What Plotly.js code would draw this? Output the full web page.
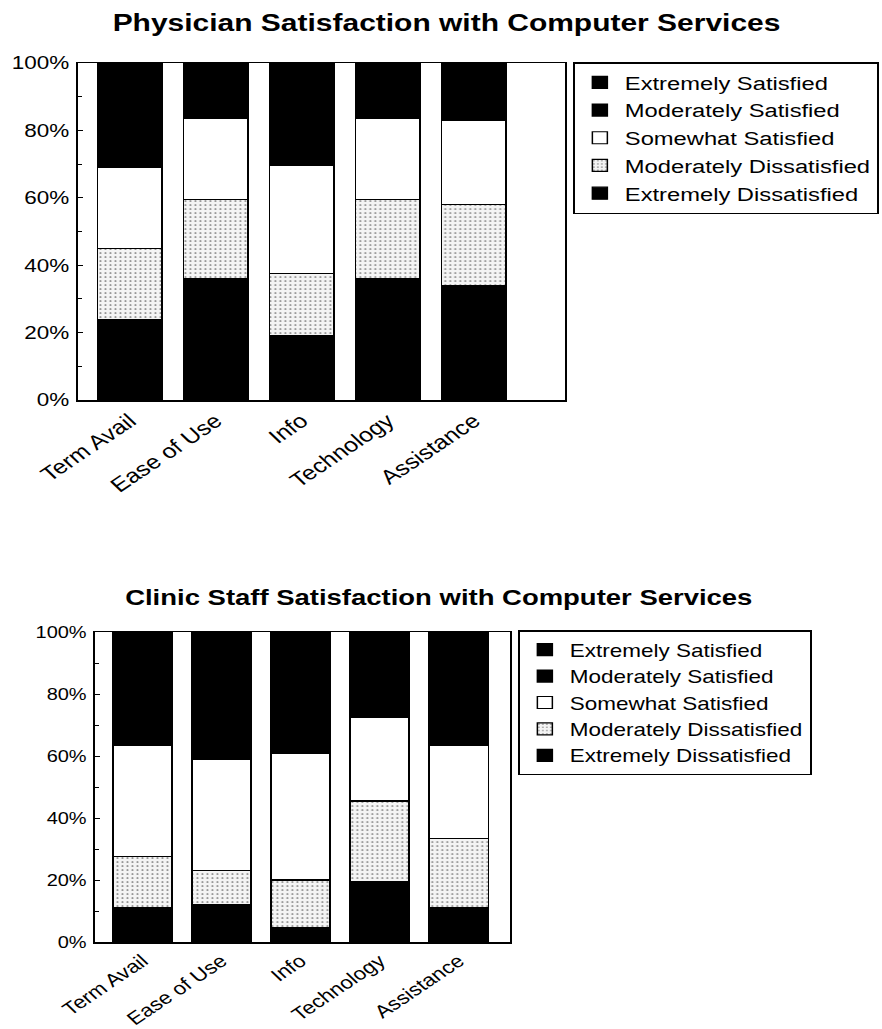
<!DOCTYPE html>
<html>
<head>
<meta charset="utf-8">
<script src="https://cdn.plot.ly/plotly-3.0.1.min.js"></script>
<style>
html,body{margin:0;padding:0;background:#fff;overflow:hidden;}
#wrap{width:882px;height:1029px;overflow:hidden;}
/* the source chart is a scan stretched horizontally by about 1.25 */
#chart{width:706px;height:1029px;transform:scaleX(1.2493);transform-origin:0 0;}
</style>
</head>
<body>
<div id="wrap"><div id="chart"></div></div>
<script>
// Categories
const categories = ['Term Avail', 'Ease of Use', 'Info', 'Technology', 'Assistance'];
const seriesNames = ['Extremely Dissatisfied', 'Moderately Dissatisfied', 'Somewhat Satisfied', 'Moderately Satisfied', 'Extremely Satisfied'];

// Physician satisfaction (percent)
const physExtDissat = [24, 36, 19, 36, 34];
const physModDissat = [21, 23.5, 18.5, 23.5, 24];
const physSomeSat   = [24, 24, 32, 24, 25];
const physModSat    = [16, 9, 16, 9, 9];
const physExtSat    = [15, 7.5, 14.5, 7.5, 8];

// Clinic staff satisfaction (percent)
const staffExtDissat = [11, 12, 4.5, 19.5, 11];
const staffModDissat = [16.5, 11, 15.5, 26, 22.5];
const staffSomeSat   = [36, 36, 41, 27, 30];
const staffModSat    = [18, 21, 20, 14, 18];
const staffExtSat    = [18.5, 20, 19, 13.5, 18.5];

const FONT = 'Liberation Sans, Arial, sans-serif';
const styles = [
  {color: '#000000'},
  {color: '#f4f4f4', pattern: {shape: '.', fgcolor: '#777777', bgcolor: '#f4f4f4', size: 4, solidity: 0.15}},
  {color: '#ffffff'},
  {color: '#000000'},
  {color: '#000000'}
];

function makeTraces(valsList, xa, ya, legendId) {
  return valsList.map((vals, i) => ({
    type: 'bar',
    name: seriesNames[i],
    x: categories,
    y: vals,
    xaxis: xa,
    yaxis: ya,
    legend: legendId,
    marker: Object.assign({line: {color: '#000', width: 1.2}}, styles[i]),
    hoverinfo: 'x+y+name'
  }));
}

const data = [
  ...makeTraces([physExtDissat, physModDissat, physSomeSat, physModSat, physExtSat], 'x', 'y', 'legend'),
  ...makeTraces([staffExtDissat, staffModDissat, staffSomeSat, staffModSat, staffExtSat], 'x2', 'y2', 'legend2')
];

const W = 706, H = 1029, REF_W = 882;
function xf(px) { return px / REF_W; }
function yf(px) { return 1 - px / H; }

const xAxisCommon = {
  type: 'category', showgrid: false, zeroline: false,
  showline: true, linecolor: '#000', linewidth: 1.5, mirror: true,
  ticks: '', tickangle: -40
};
const yAxisCommon = {
  range: [0, 100], dtick: 20, ticksuffix: '%', showgrid: false, zeroline: false,
  showline: true, linecolor: '#000', linewidth: 1.5, mirror: true,
  ticks: 'inside', ticklen: 4, tickcolor: '#000', ticklabelstandoff: 2,
  minor: {dtick: 10, ticks: 'inside', ticklen: 3, tickcolor: '#000'}
};
const legendCommon = {
  xanchor: 'left', yanchor: 'top', bordercolor: '#000', borderwidth: 1.5,
  bgcolor: '#fff', traceorder: 'reversed', tracegroupgap: 0, itemwidth: 30
};

const layout = {
  width: W, height: H,
  margin: {l: 0, r: 0, t: 0, b: 0},
  paper_bgcolor: '#fff', plot_bgcolor: '#fff',
  barmode: 'stack', bargap: 0.25,
  showlegend: true,
  xaxis: Object.assign({}, xAxisCommon, {domain: [xf(78), xf(565)], range: [-0.6, 5.06], anchor: 'y',
    tickfont: {family: FONT, size: 20, color: '#000'}}),
  yaxis: Object.assign({}, yAxisCommon, {domain: [yf(400), yf(63)], anchor: 'x',
    tickfont: {family: FONT, size: 18, color: '#000'}}),
  xaxis2: Object.assign({}, xAxisCommon, {domain: [xf(95), xf(510)], range: [-0.6, 4.65], anchor: 'y2',
    tickfont: {family: FONT, size: 18, color: '#000'}}),
  yaxis2: Object.assign({}, yAxisCommon, {domain: [yf(942), yf(632)], anchor: 'x2',
    tickfont: {family: FONT, size: 16, color: '#000'}}),
  legend: Object.assign({}, legendCommon, {x: xf(573), y: yf(62),
    font: {family: FONT, size: 19, color: '#000'}}),
  legend2: Object.assign({}, legendCommon, {x: xf(518), y: yf(630),
    font: {family: FONT, size: 18, color: '#000'}}),
  annotations: [
    {text: '<b>Physician Satisfaction with Computer Services</b>', xref: 'paper', yref: 'paper',
     x: xf(446), y: yf(22), xanchor: 'center', yanchor: 'middle', showarrow: false,
     font: {family: FONT, size: 24, color: '#000'}},
    {text: '<b>Clinic Staff Satisfaction with Computer Services</b>', xref: 'paper', yref: 'paper',
     x: xf(439), y: yf(597), xanchor: 'center', yanchor: 'middle', showarrow: false,
     font: {family: FONT, size: 22, color: '#000'}}
  ]
};

Plotly.newPlot('chart', data, layout, {displayModeBar: false, staticPlot: true});
</script>
</body>
</html>
